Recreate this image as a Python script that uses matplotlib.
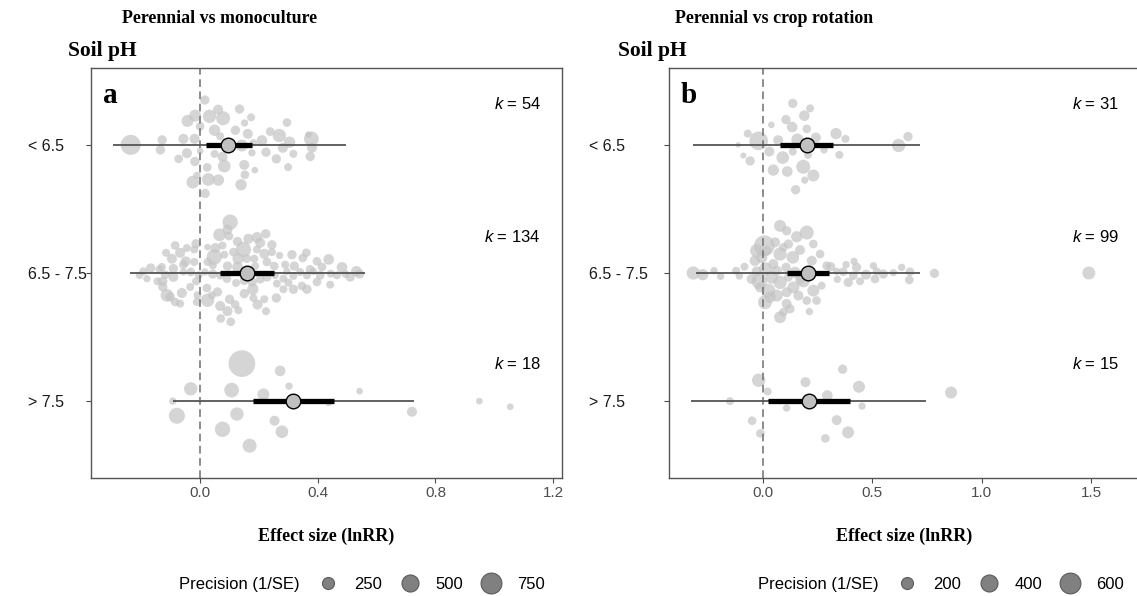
import matplotlib
matplotlib.use('Agg')
import matplotlib.pyplot as plt
from matplotlib.lines import Line2D

plt.rcParams['font.family'] = 'Liberation Sans'
plt.rcParams['mathtext.fontset'] = 'custom'
plt.rcParams['mathtext.it'] = 'Liberation Sans:italic'
plt.rcParams['mathtext.rm'] = 'Liberation Sans'

SERIF = 'Liberation Serif'

groups = ['< 6.5', '6.5 - 7.5', '> 7.5']
ypos = [3, 2, 1]

# ---- panel a: perennial vs monoculture ----
# effect sizes (lnRR), vertical jitter (swarm offset), precision (1/SE)
a1_es = [-0.236, -0.129, -0.135, -0.057, -0.019, -0.043, -0.017, 0.016, 0.032, 0.061,
         0.078, 0.049, 0.0, 0.134, 0.173, 0.151, 0.120, 0.162, 0.068, 0.142,
         0.210, 0.238, 0.269, 0.295, 0.304, 0.281, 0.317, 0.368, 0.378, 0.380,
         0.374, 0.299, 0.259, 0.224, 0.176, 0.150, 0.186, 0.152, 0.139, 0.082,
         0.076, 0.049, 0.024, 0.028, 0.062, -0.025, 0.017, -0.018, -0.045, -0.073,
         0.0, -0.011, 0.088, 0.181]
a1_jit = [0.0, 0.039, -0.039, 0.047, 0.047, 0.187, 0.228, 0.350, 0.223, 0.275,
          0.208, 0.114, 0.145, 0.280, 0.215, 0.171, 0.114, 0.086, 0.067, -0.005,
          0.034, 0.104, 0.073, 0.174, 0.021, -0.023, -0.070, 0.080, 0.047, -0.023,
          -0.091, -0.174, -0.109, -0.057, -0.062, -0.156, -0.197, -0.233, -0.311, -0.166,
          -0.093, -0.070, -0.176, -0.270, -0.275, -0.291, -0.379, -0.130, -0.065, -0.109,
          -0.047, -0.239, -0.005, 0.016]
a1_prec = [695, 151, 151, 174, 174, 250, 250, 151, 309, 174,
           340, 223, 130, 151, 111, 93, 151, 174, 111, 250,
           198, 130, 309, 130, 223, 174, 111, 77, 374, 174,
           151, 111, 151, 151, 93, 174, 77, 130, 223, 279,
           174, 111, 130, 279, 223, 279, 151, 151, 174, 130,
           77, 93, 174, 93]

a2_es = [0.102, 0.093, 0.066, 0.098, 0.127, 0.147, 0.164, 0.193, 0.223, 0.204,
         0.244, 0.218, 0.193, 0.052, 0.048, 0.076, 0.025, 0.113, 0.082, 0.129,
         0.159, 0.093, 0.127, 0.187, 0.227, 0.270, 0.312, 0.349, 0.361, 0.397,
         0.437, 0.414, 0.374, 0.320, 0.289, 0.252, 0.482, 0.531, 0.510, 0.542,
         0.444, 0.408, 0.363, 0.317, 0.283, 0.255, 0.227, 0.204, 0.177, 0.150,
         0.122, 0.091, 0.068, 0.043, 0.016, -0.005, -0.032, -0.057, -0.091, -0.119,
         -0.138, -0.168, -0.193, -0.206, -0.181, -0.085, -0.116, -0.096, -0.068, -0.045,
         -0.014, -0.020, -0.049, -0.020, -0.130, -0.091, -0.057, -0.127, -0.113, -0.085,
         -0.062, -0.034, -0.014, 0.023, -0.009, 0.025, 0.059, 0.068, 0.093, 0.100,
         0.119, 0.104, 0.130, 0.070, 0.150, 0.179, 0.181, 0.195, 0.218, 0.224,
         0.259, 0.283, 0.317, 0.346, 0.363, 0.397, 0.442, 0.261, 0.300, -0.102,
         -0.068, -0.011, 0.040, 0.025, 0.043, 0.184, 0.244, 0.295, 0.340, 0.385,
         0.465, 0.494, -0.145, -0.127]
a2_jit = [0.397, 0.340, 0.298, 0.288, 0.246, 0.184, 0.267, 0.278, 0.306, 0.236,
          0.220, 0.150, 0.184, 0.195, 0.125, 0.215, 0.202, 0.163, 0.143, 0.112,
          0.112, 0.054, 0.047, 0.054, 0.086, 0.137, 0.143, 0.117, 0.158, 0.091,
          0.106, 0.047, 0.029, 0.054, 0.065, 0.054, 0.044, 0.013, -0.031, -0.008,
          -0.005, -0.018, -0.018, -0.023, -0.044, -0.018, -0.031, -0.049, -0.070, -0.057,
          -0.078, -0.044, -0.023, -0.008, 0.008, -0.018, 0.008, 0.008, -0.031, -0.013,
          0.029, 0.039, 0.013, -0.018, -0.044, 0.215, 0.158, 0.112, 0.158, 0.195,
          0.228, 0.184, 0.091, 0.086, 0.047, 0.034, 0.065, -0.109, -0.174, -0.226,
          -0.156, -0.109, -0.065, -0.117, -0.174, -0.213, -0.148, -0.257, -0.298, -0.205,
          -0.246, -0.381, -0.291, -0.355, -0.161, -0.127, -0.195, -0.246, -0.205, -0.298,
          -0.195, -0.127, -0.127, -0.101, -0.127, -0.070, -0.091, -0.083, -0.075, -0.187,
          -0.239, -0.226, -0.174, 0.086, 0.060, 0.112, 0.163, 0.013, 0.008, 0.013,
          -0.018, -0.008, -0.065, -0.065]
a2_prec = [408, 174, 279, 130, 151, 408, 174, 198, 151, 174,
           151, 174, 111, 174, 408, 111, 77, 130, 111, 223,
           130, 151, 198, 111, 130, 93, 151, 130, 130, 130,
           198, 130, 130, 151, 111, 130, 198, 198, 151, 151,
           111, 130, 111, 111, 111, 93, 151, 130, 151, 151,
           111, 130, 93, 151, 93, 111, 130, 93, 174, 130,
           111, 151, 111, 93, 93, 130, 111, 174, 174, 111,
           151, 111, 174, 111, 111, 151, 130, 151, 279, 130,
           174, 111, 111, 130, 111, 309, 151, 174, 174, 151,
           130, 130, 111, 130, 151, 223, 111, 174, 111, 111,
           151, 111, 151, 130, 151, 130, 111, 111, 111, 151,
           111, 111, 111, 111, 111, 111, 111, 93, 111, 93,
           111, 111, 111, 151]

a3_es = [0.142, 0.272, -0.032, 0.107, 0.302, 0.215, 0.542, -0.093, 0.437, 0.949,
         1.054, 0.720, -0.079, 0.125, 0.253, 0.076, 0.278, 0.168]
a3_jit = [0.293, 0.236, 0.096, 0.086, 0.117, 0.052, 0.078, 0.0, -0.013, 0.0,
          -0.044, -0.083, -0.114, -0.101, -0.153, -0.220, -0.239, -0.348]
a3_prec = [1235, 198, 309, 374, 93, 250, 77, 93, 77, 77,
           77, 174, 445, 309, 174, 408, 279, 340]

a_mean = [0.096, 0.160, 0.317]
a_ci_lo = [0.020, 0.068, 0.181]
a_ci_hi = [0.176, 0.252, 0.454]
a_pi_lo = [-0.297, -0.238, -0.093]
a_pi_hi = [0.497, 0.561, 0.728]
a_k = [54, 134, 18]

# ---- panel b: perennial vs crop rotation ----
b1_es = [0.136, 0.215, 0.189, 0.105, 0.133, 0.038, 0.200, -0.070, -0.020, 0.069,
         0.157, 0.242, 0.334, 0.377, -0.114, 0.029, 0.136, 0.206, 0.279, 0.349,
         -0.090, -0.059, 0.090, 0.047, 0.111, 0.184, 0.230, 0.191, 0.149, 0.620,
         0.663]
b1_jit = [0.324, 0.285, 0.228, 0.197, 0.140, 0.156, 0.125, 0.088, 0.031, 0.036,
          0.042, 0.057, 0.088, 0.047, 0.0, -0.052, -0.052, -0.078, -0.039, -0.078,
          -0.083, -0.125, -0.099, -0.197, -0.208, -0.171, -0.239, -0.275, -0.350, -0.005,
          0.065]
b1_prec = [121, 89, 158, 121, 158, 62, 104, 89, 484, 139,
           200, 139, 178, 89, 40, 139, 89, 89, 75, 89,
           50, 121, 223, 178, 158, 272, 200, 75, 121, 247,
           121]

b2_es = [-0.319, -0.276, -0.224, -0.194, -0.123, -0.085, -0.108, -0.052, -0.017, 0.011,
         -0.037, 0.006, 0.078, 0.108, 0.055, 0.017, 0.078, 0.116, 0.154, 0.200,
         0.230, 0.169, 0.136, 0.261, 0.223, 0.291, 0.309, 0.047, 0.105, 0.040,
         0.078, 0.024, 0.063, 0.009, 0.108, 0.078, 0.123, 0.093, 0.139, 0.162,
         0.200, 0.245, 0.230, 0.268, 0.184, 0.212, 0.169, 0.063, -0.014, 0.108,
         0.116, -0.029, 0.367, 0.380, 0.416, 0.428, 0.340, 0.390, 0.444, 0.471,
         0.505, 0.520, 0.550, 0.512, 0.413, 0.337, 0.634, 0.672, 0.669, 0.596,
         0.784, 1.490, -0.006, 0.032, 0.146, 0.093, -0.029]
b2_jit = [0.0, -0.013, 0.018, -0.026, 0.018, 0.049, -0.023, -0.047, -0.065, 0.031,
          0.096, 0.213, 0.368, 0.329, 0.239, 0.174, 0.148, 0.226, 0.283, 0.316,
          0.226, 0.179, 0.122, 0.148, 0.096, 0.057, 0.049, 0.070, 0.044, -0.034,
          -0.073, -0.137, -0.176, -0.228, -0.241, -0.345, -0.280, -0.306, -0.112, -0.176,
          -0.215, -0.215, -0.137, -0.099, -0.060, -0.301, -0.047, 0.018, -0.112, -0.150,
          -0.034, 0.013, 0.010, 0.065, 0.091, 0.044, -0.049, -0.073, -0.065, -0.013,
          0.057, 0.013, -0.008, -0.047, -0.021, 0.013, 0.044, 0.010, -0.054, 0.003,
          -0.003, 0.0, 0.122, -0.189, 0.005, 0.200, 0.174]
b2_prec = [247, 178, 75, 75, 89, 89, 75, 139, 327, 247,
           158, 594, 200, 121, 139, 139, 247, 121, 178, 272,
           104, 139, 223, 104, 139, 104, 121, 139, 121, 223,
           247, 272, 200, 272, 139, 200, 121, 104, 200, 139,
           104, 104, 200, 89, 247, 75, 139, 139, 139, 139,
           104, 139, 104, 75, 75, 121, 75, 121, 89, 139,
           75, 89, 121, 104, 104, 75, 75, 104, 104, 75,
           121, 235, 178, 178, 178, 104, 247]

b3_es = [0.364, -0.020, 0.194, 0.439, 0.021, 0.294, -0.151, 0.108, 0.453, 0.860,
         -0.050, 0.337, -0.012, 0.389, 0.285]
b3_jit = [0.249, 0.163, 0.148, 0.112, 0.075, 0.044, 0.0, -0.054, -0.039, 0.067,
          -0.153, -0.148, -0.252, -0.244, -0.291]
b3_prec = [121, 247, 139, 200, 89, 158, 89, 75, 75, 200,
           104, 139, 104, 200, 104]

b_mean = [0.200, 0.204, 0.210]
b_ci_lo = [0.078, 0.108, 0.021]
b_ci_hi = [0.322, 0.303, 0.398]
b_pi_lo = [-0.319, -0.306, -0.331]
b_pi_hi = [0.718, 0.718, 0.745]
b_k = [31, 99, 15]

W, H = 1137, 596


def draw_panel(ax, es, jit, prec, mean, ci_lo, ci_hi, pi_lo, pi_hi, k,
               size_scale, xlim, xticks, xticklabels, letter, ypad, legend_vals, legend_x):
    # individual effect sizes
    for i, y0 in enumerate(ypos):
        ys = [y0 + j for j in jit[i]]
        ax.scatter(es[i], ys, s=[size_scale * p for p in prec[i]],
                   color='#c4c4c4', alpha=0.7, linewidths=0, zorder=1)
    ax.axvline(0, color='#6e6e6e', lw=1.1, ls=(0, (5, 3)), zorder=2)
    # prediction interval, confidence interval, mean
    ax.hlines(ypos, pi_lo, pi_hi, color='#555555', lw=1.3, zorder=3)
    ax.hlines(ypos, ci_lo, ci_hi, color='black', lw=3.8, zorder=4)
    ax.plot(mean, ypos, 'o', ms=10.5, mfc='#c0c0c0', mec='black', mew=1.0, zorder=5)

    koff = [0.32, 0.28, 0.29]
    for i, y0 in enumerate(ypos):
        ax.text(0.955, y0 + koff[i], r'$k$ = %d' % k[i], transform=ax.get_yaxis_transform(),
                ha='right', va='center', fontsize=12)

    ax.set_xlim(*xlim)
    ax.set_ylim(0.4, 3.6)
    ax.set_xticks(xticks)
    ax.set_xticklabels(xticklabels)
    ax.set_yticks(ypos)
    ax.set_yticklabels(groups)
    for lbl in ax.get_yticklabels():
        lbl.set_horizontalalignment('left')
    ax.tick_params(axis='x', length=3.6, pad=2.5, labelsize=11, colors='#4d4d4d')
    ax.tick_params(axis='y', length=3.6, pad=ypad, labelsize=11.5, labelcolor='#1a1a1a',
                   color='#4d4d4d')
    for sp in ax.spines.values():
        sp.set_color('#555555')
        sp.set_linewidth(1.0)

    ax.set_xlabel('Effect size (lnRR)', fontsize=13, fontweight='bold', family=SERIF,
                  labelpad=19.5)
    ax.text(0.025, 0.915, letter, transform=ax.transAxes, fontsize=21, fontweight='bold',
            family=SERIF, va='baseline', ha='left')

    handles = [Line2D([], [], ls='none', label='Precision (1/SE)')]
    for v in legend_vals:
        handles.append(Line2D([], [], ls='none', marker='o', ms=(size_scale * v) ** 0.5,
                              mfc='#808080', mec='#5a5a5a', mew=0.8, label=str(v)))
    ax.legend(handles=handles, loc='center', bbox_to_anchor=(legend_x, -0.259), ncol=4,
              frameon=False, fontsize=12, handlelength=1.6, handletextpad=0.76,
              columnspacing=0.88, borderaxespad=0)


fig = plt.figure(figsize=(W / 100, H / 100), dpi=100)
ax_a = fig.add_axes([91 / W, 1 - 478 / H, 471 / W, 410 / H])
ax_b = fig.add_axes([669 / W, 1 - 478 / H, 471 / W, 410 / H])

draw_panel(ax_a, [a1_es, a2_es, a3_es], [a1_jit, a2_jit, a3_jit], [a1_prec, a2_prec, a3_prec],
           a_mean, a_ci_lo, a_ci_hi, a_pi_lo, a_pi_hi, a_k, 0.3,
           (-0.371, 1.23), [0, 0.4, 0.8, 1.2], ['0.0', '0.4', '0.8', '1.2'],
           'a', 42, [250, 500, 750], 0.534)
draw_panel(ax_b, [b1_es, b2_es, b3_es], [b1_jit, b2_jit, b3_jit], [b1_prec, b2_prec, b3_prec],
           b_mean, b_ci_lo, b_ci_hi, b_pi_lo, b_pi_hi, b_k, 0.373,
           (-0.43, 1.724), [0, 0.5, 1.0, 1.5], ['0.0', '0.5', '1.0', '1.5'],
           'b', 54, [200, 400, 600], 0.536)

# panel titles and y-axis heading
fig.text(122 / W, 1 - 23 / H, 'Perennial vs monoculture', fontsize=12.9, fontweight='bold',
         family=SERIF, va='baseline')
fig.text(68 / W, 1 - 56 / H, 'Soil pH', fontsize=15.5, fontweight='bold', family=SERIF,
         va='baseline')
fig.text(675 / W, 1 - 23 / H, 'Perennial vs crop rotation', fontsize=12.9, fontweight='bold',
         family=SERIF, va='baseline')
fig.text(618 / W, 1 - 56 / H, 'Soil pH', fontsize=15.5, fontweight='bold', family=SERIF,
         va='baseline')

fig.savefig('out.png', dpi=100)
